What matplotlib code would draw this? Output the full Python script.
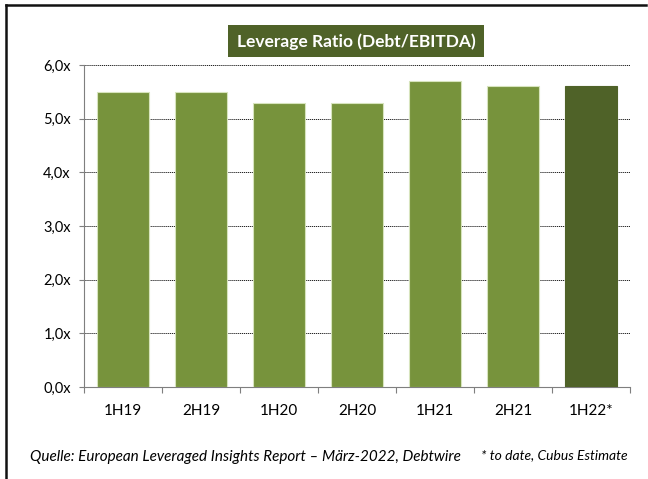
import numpy as np
import matplotlib
matplotlib.use("Agg")
import matplotlib.pyplot as plt
from matplotlib.lines import Line2D
from matplotlib.patches import Rectangle
from matplotlib.ticker import FuncFormatter, FixedLocator

plt.rcParams['font.family'] = ['Lato', 'DejaVu Sans']

# data
periods = ['1H19', '2H19', '1H20', '2H20', '1H21', '2H21', '1H22*']
leverage = [5.5, 5.5, 5.3, 5.3, 5.7, 5.6, 5.6]
estimate = [False, False, False, False, False, False, True]

light_green = '#77933C'
dark_green = '#4F6228'
edge_green = '#D7E4BD'

W, H = 648, 479
fig = plt.figure(figsize=(W / 100, H / 100), dpi=100)
ax = fig.add_axes([84 / W, 1 - 387 / H, 546 / W, 322 / H])

x = np.arange(len(periods))
colors = [dark_green if e else light_green for e in estimate]
edges = [dark_green if e else edge_green for e in estimate]
ax.bar(x, leverage, width=0.67, color=colors, edgecolor=edges, linewidth=0.8, zorder=3)

ax.set_xlim(-0.5, len(periods) - 0.5)
ax.set_ylim(0, 6)
ax.set_yticks(np.arange(0, 7, 1))
ax.yaxis.set_major_formatter(FuncFormatter(lambda v, p: f"{v:.1f}".replace('.', ',') + 'x'))

# dotted gridlines
for v in range(1, 7):
    ax.axhline(v, color='#202020', linewidth=0.7, linestyle=(0, (1.2, 0.8)), zorder=1)

# x ticks at category boundaries, labels at the centres
ax.xaxis.set_major_locator(FixedLocator(np.arange(-0.5, len(periods), 1)))
ax.xaxis.set_major_formatter(FuncFormatter(lambda v, p: ''))
ax.xaxis.set_minor_locator(FixedLocator(x))
ax.set_xticklabels(periods, minor=True)
ax.tick_params(axis='x', which='major', direction='out', length=4, color='#7F7F7F', width=0.8)
ax.tick_params(axis='x', which='minor', length=0, pad=12, labelsize=11)
ax.tick_params(axis='y', direction='out', length=3.5, color='#7F7F7F', width=0.8, pad=6, labelsize=10.5)

for s in ['top', 'right']:
    ax.spines[s].set_visible(False)
for s in ['left', 'bottom']:
    ax.spines[s].set_color('#7F7F7F')
    ax.spines[s].set_linewidth(0.8)

# title box
fig.add_artist(Rectangle((228 / W, 1 - 57 / H), 256 / W, 32 / H, transform=fig.transFigure,
                         facecolor=dark_green, edgecolor='none'))
fig.text(356 / W, 1 - 41.5 / H, 'Leverage Ratio (Debt/EBITDA)', ha='center', va='center',
         fontsize=12.5, fontweight='bold', color='white')

# source notes
fig.text(30 / W, 1 - 457 / H, 'Quelle: European Leveraged Insights Report \u2013 März-2022, Debtwire',
         ha='left', va='center', fontsize=11, style='italic')
fig.text(628 / W, 1 - 455 / H, '* to date, Cubus Estimate',
         ha='right', va='center', fontsize=10, style='italic')

# outer frame (top and left)
fig.add_artist(Line2D([6 / W, 646 / W], [1 - 4.5 / H, 1 - 4.5 / H], color='#111111', linewidth=1.8))
fig.add_artist(Line2D([6 / W, 6 / W], [0, 1 - 4.5 / H], color='#111111', linewidth=1.8))

fig.savefig('out.png', dpi=100)
